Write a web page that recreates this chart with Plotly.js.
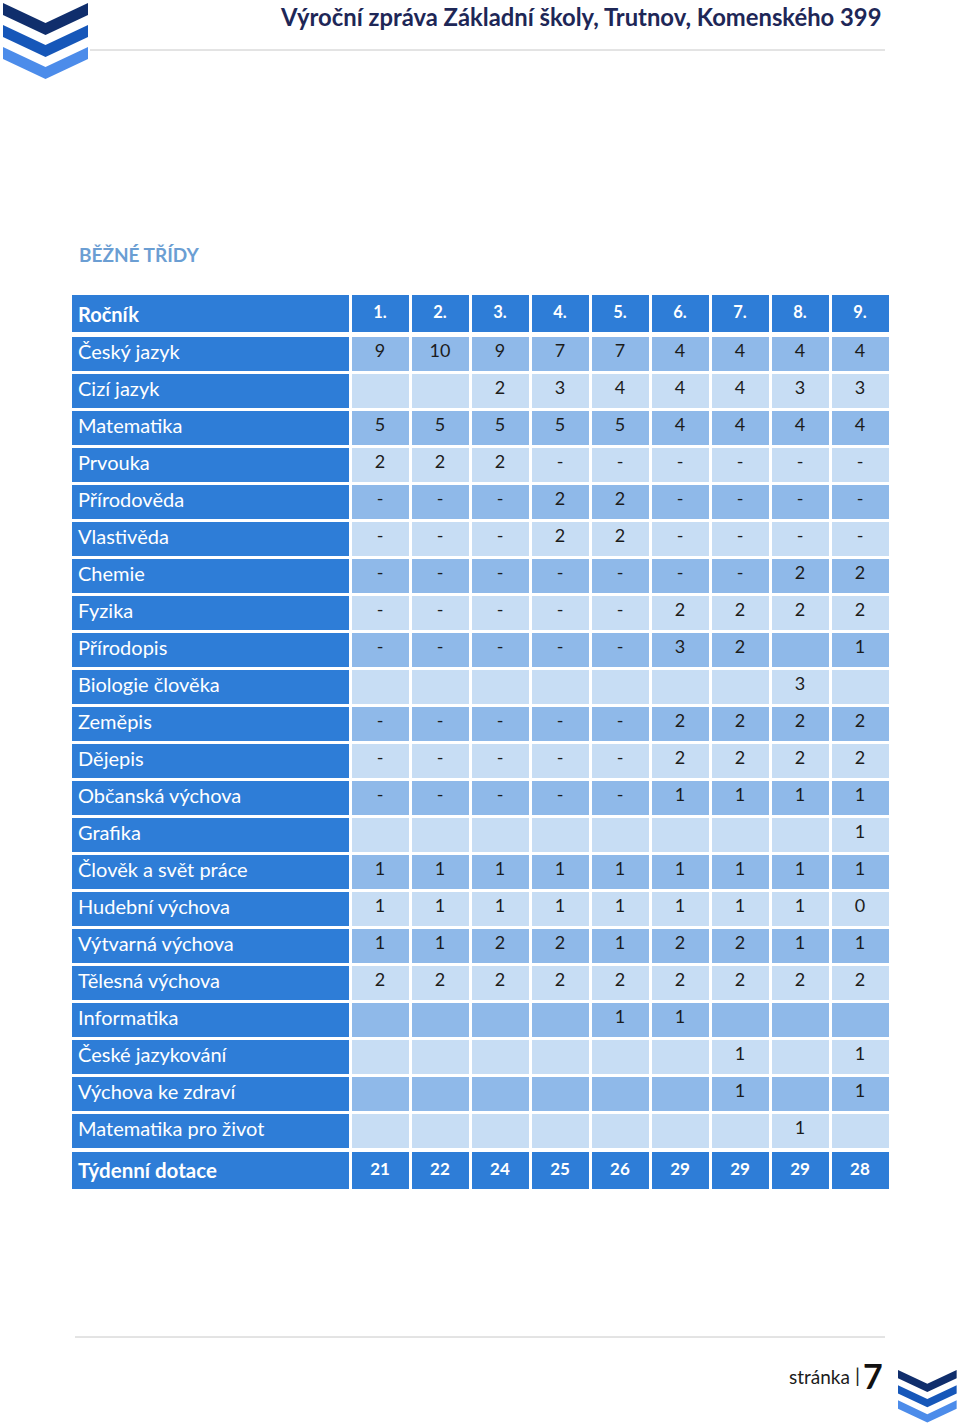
<!DOCTYPE html>
<html>
<head>
<meta charset="utf-8">
<script src="https://cdn.plot.ly/plotly-3.0.1.min.js"></script>
<style>
  html, body { margin: 0; padding: 0; background: #fff; }
  #page { width: 960px; height: 1426px; }
</style>
</head>
<body>
<div id="page"></div>
<script>
var grades = ['1.', '2.', '3.', '4.', '5.', '6.', '7.', '8.', '9.'];
var subjects = [
    'Český jazyk', 'Cizí jazyk', 'Matematika', 'Prvouka', 'Přírodověda', 'Vlastivěda',
    'Chemie', 'Fyzika', 'Přírodopis', 'Biologie člověka', 'Zeměpis', 'Dějepis',
    'Občanská výchova', 'Grafika', 'Člověk a svět práce', 'Hudební výchova',
    'Výtvarná výchova', 'Tělesná výchova', 'Informatika', 'České jazykování',
    'Výchova ke zdraví', 'Matematika pro život'
];
// hours per week, one row per subject, one entry per grade
var hours = [
    ['9', '10', '9', '7', '7', '4', '4', '4', '4'],
    ['', '', '2', '3', '4', '4', '4', '3', '3'],
    ['5', '5', '5', '5', '5', '4', '4', '4', '4'],
    ['2', '2', '2', '-', '-', '-', '-', '-', '-'],
    ['-', '-', '-', '2', '2', '-', '-', '-', '-'],
    ['-', '-', '-', '2', '2', '-', '-', '-', '-'],
    ['-', '-', '-', '-', '-', '-', '-', '2', '2'],
    ['-', '-', '-', '-', '-', '2', '2', '2', '2'],
    ['-', '-', '-', '-', '-', '3', '2', '', '1'],
    ['', '', '', '', '', '', '', '3', ''],
    ['-', '-', '-', '-', '-', '2', '2', '2', '2'],
    ['-', '-', '-', '-', '-', '2', '2', '2', '2'],
    ['-', '-', '-', '-', '-', '1', '1', '1', '1'],
    ['', '', '', '', '', '', '', '', '1'],
    ['1', '1', '1', '1', '1', '1', '1', '1', '1'],
    ['1', '1', '1', '1', '1', '1', '1', '1', '0'],
    ['1', '1', '2', '2', '1', '2', '2', '1', '1'],
    ['2', '2', '2', '2', '2', '2', '2', '2', '2'],
    ['', '', '', '', '1', '1', '', '', ''],
    ['', '', '', '', '', '', '1', '', '1'],
    ['', '', '', '', '', '', '1', '', '1'],
    ['', '', '', '', '', '', '', '1', '']
];
var totals = ['21', '22', '24', '25', '26', '29', '29', '29', '28'];

var W = 960, H = 1426;
var blue = '#2e7dd7', dark = '#8fb9e9', light = '#c7ddf4';
var FONT = 'Lato, "Open Sans", sans-serif';
function fx(x) { return x / W; }
function fy(y) { return 1 - y / H; }

var colWidths = [280].concat(grades.map(() => 60));
var tableX = [fx(70), fx(890)];
var aligns = ['left'].concat(grades.map(() => 'center'));
var blanks = colWidths.map(() => '');

// invisible filler rows, tables need both a header and cells
function blankBlock(h) {
    return {
        values: blanks.map(() => ['']),
        height: h,
        fill: {color: '#ffffff'},
        line: {color: '#ffffff', width: 0},
        font: {family: FONT, size: 1, color: '#ffffff'}
    };
}

var headerTable = {
    type: 'table',
    domain: {x: tableX, y: [fy(340), fy(293.5)]},
    columnwidth: colWidths,
    header: {
        values: ['<b>Ročník</b>'].concat(grades.map(g => '<b>' + g + '</b>')),
        align: aligns,
        height: 35,
        fill: {color: blue},
        line: {color: '#ffffff', width: 3},
        font: {family: FONT, size: [20].concat(grades.map(() => 16.5)), color: '#ffffff'}
    },
    cells: blankBlock(2)
};

var bodyCols = [subjects].concat(grades.map((g, j) => hours.map(r => r[j])));
var bodyFill = [subjects.map(() => blue)].concat(grades.map(() => subjects.map((s, i) => i % 2 === 0 ? dark : light)));

var bodyTable = {
    type: 'table',
    domain: {x: tableX, y: [fy(1160), fy(334.5)]},
    columnwidth: colWidths,
    header: blankBlock(1),
    cells: {
        values: bodyCols,
        align: aligns,
        height: 37,
        fill: {color: bodyFill},
        line: {color: '#ffffff', width: 3},
        font: {family: FONT, size: [20].concat(grades.map(() => 18)), color: ['#ffffff'].concat(grades.map(() => '#1c1c1c'))}
    }
};
bodyTable.header.values = blanks;

var totalTable = {
    type: 'table',
    domain: {x: tableX, y: [fy(1200), fy(1150)]},
    columnwidth: colWidths,
    header: {
        values: ['<b>Týdenní dotace</b>'].concat(totals.map(t => '<b>' + t + '</b>')),
        align: aligns,
        height: 36,
        fill: {color: blue},
        line: {color: '#ffffff', width: 3},
        font: {family: FONT, size: [20.5].concat(grades.map(() => 17)), color: '#ffffff'}
    },
    cells: blankBlock(2)
};

// chevron logo
function chevron(x0, y0, w, h, t) {
    var p = [[x0, y0], [x0 + w / 2, y0 + h], [x0 + w, y0], [x0 + w, y0 + t], [x0 + w / 2, y0 + h + t], [x0, y0 + t]];
    return 'M' + p.map(q => fx(q[0]) + ',' + fy(q[1])).join(' L') + ' Z';
}
var logoColors = ['#102e6c', '#1657b9', '#4c8cea'];
function logo(x0, y0, s) {
    return logoColors.map((c, k) => ({
        type: 'path', xref: 'paper', yref: 'paper',
        path: chevron(x0, y0 + k * 22 * s, 85 * s, 20 * s, 12 * s),
        fillcolor: c, line: {width: 0}
    }));
}

var shapes = logo(3, 3, 1).concat(logo(898, 1370, 0.69)).concat([
    {type: 'line', xref: 'paper', yref: 'paper', x0: fx(90), x1: fx(885), y0: fy(50), y1: fy(50), line: {color: '#c8c8c8', width: 1}},
    {type: 'line', xref: 'paper', yref: 'paper', x0: fx(75), x1: fx(885), y0: fy(1337), y1: fy(1337), line: {color: '#c8c8c8', width: 1}}
]);

var annotations = [
    {text: '<b>Výroční zpráva Základní školy, Trutnov, Komenského 399</b>', x: fx(883), y: fy(17), xanchor: 'right', yanchor: 'middle',
     font: {family: FONT, size: 23.8, color: '#1e2757'}},
    {text: '<b>BĚŽNÉ TŘÍDY</b>', x: fx(77), y: fy(255), xanchor: 'left', yanchor: 'middle',
     font: {family: FONT, size: 19, color: '#6b9ed3'}},
    {text: 'stránka', x: fx(852), y: fy(1376), xanchor: 'right', yanchor: 'middle',
     font: {family: FONT, size: 19, color: '#1c1c1c'}},
    {text: '|', x: fx(857), y: fy(1375), xanchor: 'center', yanchor: 'middle',
     font: {family: FONT, size: 20, color: '#1c1c1c'}},
    {text: '<b>7</b>', x: fx(873), y: fy(1375), xanchor: 'center', yanchor: 'middle',
     font: {family: FONT, size: 34, color: '#111111'}}
].map(a => Object.assign({xref: 'paper', yref: 'paper', showarrow: false}, a));

var layout = {
    width: W,
    height: H,
    margin: {l: 0, r: 0, t: 0, b: 0},
    paper_bgcolor: '#ffffff',
    showlegend: false,
    shapes: shapes,
    annotations: annotations
};

Plotly.newPlot('page', [headerTable, bodyTable, totalTable], layout, {displayModeBar: false, staticPlot: true});
</script>
</body>
</html>
